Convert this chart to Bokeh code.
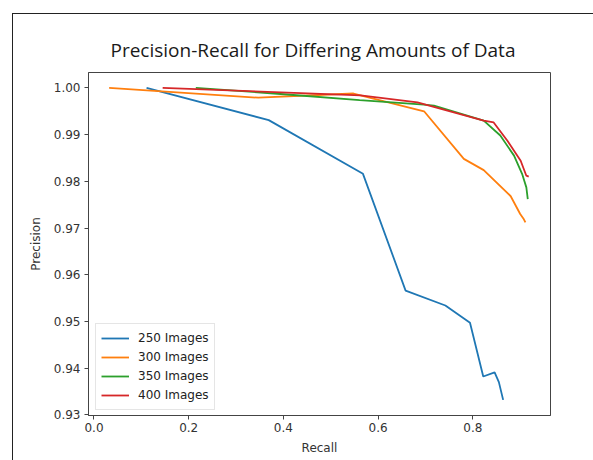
from bokeh.plotting import figure
from bokeh.models import Range1d, FixedTicker, Legend, LegendItem
from bokeh.embed import file_html
from bokeh.resources import INLINE

title_text = "Precision-Recall for Differing Amounts of Data"
series_names = ["250 Images", "300 Images", "350 Images", "400 Images"]
colors = ["#1f77b4", "#ff7f0e", "#2ca02c", "#d62728"]

recall_250 = [0.111, 0.369, 0.568, 0.658, 0.742, 0.794, 0.822, 0.846, 0.855, 0.864]
precision_250 = [1.000, 0.9931, 0.9816, 0.9566, 0.9534, 0.9497, 0.9382, 0.9391, 0.9370, 0.9332]

recall_300 = [0.032, 0.347, 0.548, 0.697, 0.781, 0.823, 0.880, 0.900, 0.907, 0.911]
precision_300 = [1.000, 0.9979, 0.9988, 0.9950, 0.9848, 0.9824, 0.9768, 0.9730, 0.9720, 0.9712]

recall_350 = [0.215, 0.394, 0.561, 0.697, 0.718, 0.823, 0.858, 0.887, 0.904, 0.913, 0.916]
precision_350 = [1.000, 0.9987, 0.9974, 0.9964, 0.9962, 0.9930, 0.9898, 0.9855, 0.9816, 0.9787, 0.9762]

recall_400 = [0.145, 0.563, 0.683, 0.823, 0.844, 0.873, 0.901, 0.913, 0.918]
precision_400 = [1.000, 0.9984, 0.9969, 0.9930, 0.9926, 0.9887, 0.9844, 0.9812, 0.9810]

x_ticks = [0.0, 0.2, 0.4, 0.6, 0.8]
x_tick_labels = ["0.0", "0.2", "0.4", "0.6", "0.8"]
y_ticks = [0.93, 0.94, 0.95, 0.96, 0.97, 0.98, 0.99, 1.00]
y_tick_labels = ["0.93", "0.94", "0.95", "0.96", "0.97", "0.98", "0.99", "1.00"]

all_x = [recall_250, recall_300, recall_350, recall_400]
all_y = [precision_250, precision_300, precision_350, precision_400]

p = figure(width=593, height=460, output_backend="svg", toolbar_location=None,
           x_range=Range1d(-0.0116, 0.964), y_range=Range1d(0.92985, 1.0033),
           min_border_left=88, min_border_right=43, min_border_top=72, min_border_bottom=45)

p.title.text = title_text
p.title.align = "left"
p.title.offset = 22
p.title.text_font = "Open Sans"
p.title.text_font_size = "19px"
p.title.text_font_style = "normal"
p.title.text_color = "#1a1a1a"
p.title.standoff = 19

p.border_fill_color = None
p.background_fill_color = "white"
p.outline_line_color = "#444444"
p.outline_line_width = 1
p.xgrid.visible = False
p.ygrid.visible = False

p.styles = {
    "background-color": "white",
    "background-image": "linear-gradient(#222,#222), linear-gradient(#222,#222)",
    "background-size": "1px 447px, 581px 1px",
    "background-position": "12px 13px, 12px 13px",
    "background-repeat": "no-repeat",
}

for ax in (p.xaxis[0], p.yaxis[0]):
    ax.axis_line_color = "#444444"
    ax.major_tick_line_color = "#444444"
    ax.minor_tick_line_color = None
    ax.major_tick_in = 0
    ax.major_tick_out = 4
    ax.major_label_text_font = "DejaVu Sans"
    ax.major_label_text_font_size = "12px"
    ax.major_label_text_color = "#333333"
    ax.axis_label_text_font = "DejaVu Sans"
    ax.axis_label_text_font_size = "12px"
    ax.axis_label_text_font_style = "normal"
    ax.axis_label_text_color = "#333333"

p.xaxis.ticker = FixedTicker(ticks=x_ticks)
p.xaxis.major_label_overrides = dict(zip(x_ticks, x_tick_labels))
p.yaxis.ticker = FixedTicker(ticks=y_ticks)
p.yaxis.major_label_overrides = dict(zip(y_ticks, y_tick_labels))
p.xaxis.axis_label = "Recall"
p.yaxis.axis_label = "Precision"
p.xaxis.major_label_standoff = 3
p.yaxis.major_label_standoff = 4
p.xaxis.axis_label_standoff = 6
p.yaxis.axis_label_standoff = 8

items = []
for xs, ys, c, name in zip(all_x, all_y, colors, series_names):
    r = p.line(xs, ys, line_color=c, line_width=1.8)
    items.append(LegendItem(label=name, renderers=[r]))

legend = Legend(items=items, location=(7, 5), margin=0)
legend.label_text_font = "DejaVu Sans"
legend.label_text_font_size = "12px"
legend.label_text_color = "#222222"
legend.glyph_width = 28
legend.glyph_height = 18
legend.label_height = 18
legend.spacing = 1
legend.padding = 5
legend.label_standoff = 9
legend.border_line_color = "#cccccc"
legend.border_line_width = 1
legend.background_fill_alpha = 0.8
p.add_layout(legend, "center")

open("out.html", "w").write(file_html(p, INLINE))
